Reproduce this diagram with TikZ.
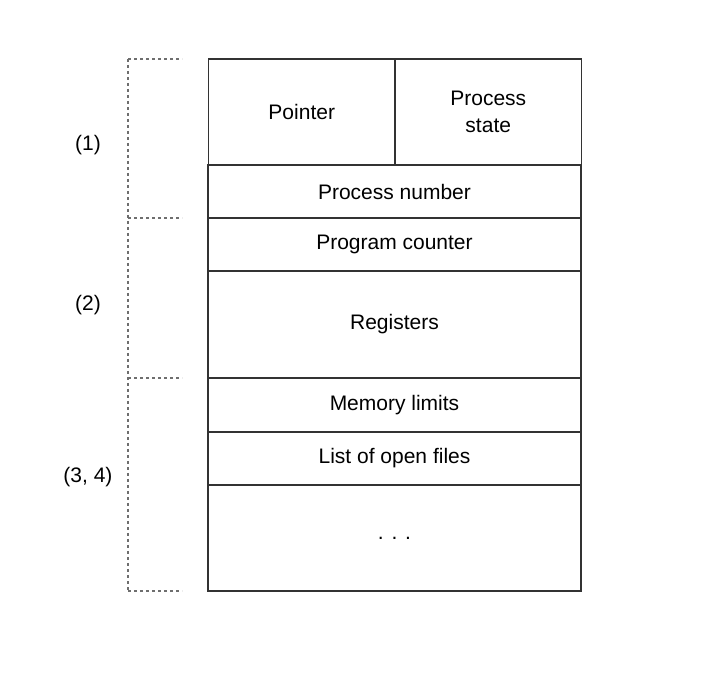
\documentclass[tikz,border=0pt]{standalone}
\usepackage{fontspec}
\setmainfont{Liberation Sans}
\usetikzlibrary{positioning}
\definecolor{linegray}{HTML}{333333}
\definecolor{dashgray}{HTML}{6E6E6E}

\begin{document}
\begin{tikzpicture}[x=1pt,y=-1pt,
 row/.style={draw=linegray,line width=1.3pt,minimum width=373pt,inner sep=0pt,align=center,font=\fontsize{21}{27}\selectfont},
 half/.style={row,minimum width=186.5pt,minimum height=106pt},
 part/.style={font=\fontsize{21}{24}\selectfont},
 brace/.style={draw=dashgray,line width=1.3pt,dash pattern=on 3pt off 3pt}]
\useasboundingbox (0,0) rectangle (702,684);
\node[half] (ptr) at (301.75,112) {Pointer};
\node[half] (pst) at (488.25,112) {Process\\state};
\node[row,minimum height=53pt] (pnum) at (394.5,191.5) {Process number};
\node[row,minimum height=53pt] (pc) at (394.5,244.5) {Program counter};
\node[row,minimum height=107pt] (reg) at (394.5,324.5) {Registers};
\node[row,minimum height=54pt] (mem) at (394.5,405) {Memory limits};
\node[row,minimum height=53pt] (files) at (394.5,458.5) {List of open files};
\node[row,minimum height=106pt] (rest) at (394.5,538) {. . .};

\coordinate (b0) at (128,59);
\coordinate (b1) at (128,218);
\coordinate (b2) at (128,378);
\coordinate (b3) at (128,591);
\draw[brace] (b0) -- (b3);
\foreach \b in {b0,b1,b2,b3}
  \draw[brace] (\b) -- ++(54,0);

\node[part] (p1) at (88,145) {(1)};
\node[part] (p2) at (88,305) {(2)};
\node[part] (p34) at (88,477) {(3, 4)};
\end{tikzpicture}
\end{document}
